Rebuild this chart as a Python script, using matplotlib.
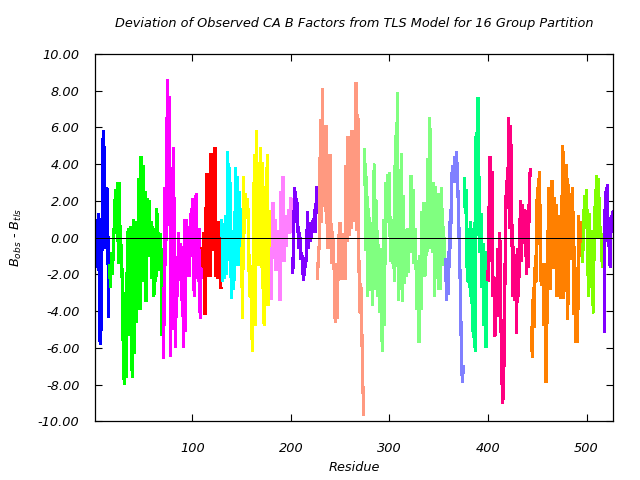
import numpy as np
import matplotlib
matplotlib.use("Agg")
import matplotlib.pyplot as plt

# deviation B_obs - B_tls per residue, one list per TLS group
blue = [-1.5, 0.2, -1.6, 0.7, 1.3, -5.5, -5.8, -2.9, 5.0, 5.8, 3.0, -0.6, 2.7, 2.6, -4.3]
green = [-1.5, -2.7, -0.8, -2.0, -0.3, 0.9, 2.6, 0.8, 3.0, -1.4, 3.0, -1.3, -0.4, -2.6,
         -6.3, -8.0, -3.0, -7.6, -1.0, 0.5, -5.3, 0.6, -1.7, -7.6, 1.0, -6.3, 0.9, -4.6,
         0.3, -2.1, 3.2, -3.9, 4.4, 0.9, 3.9, -2.4, 2.5, -3.5, 2.1, 0.5, 2.0, -1.0, 0.9,
         -2.2, 0.6, -3.2, -0.5, -2.4, 1.6, -1.8, 0.3, -1.6, 0.2, -5.3, -1.0]
magenta = [-6.5, 2.7, -1.5, 4.8, 8.6, 0.7, 7.7, -6.45, 3.0, -5.0, 4.9, -3.3, -6.0, -1.5,
           -3.2, 0.3, -1.7, -0.3, -3.4, -0.5, -6.0, 1.0, -5.1, 1.0, -2.1, -0.3, -2.1, 1.3,
           -1.0, 2.15, -1.0, -3.2, 1.5, 2.4, -0.6, -2.4, 0.5, -4.4, -1.4]
red = [-0.6, -1.6, 0.3, -4.2, 1.6, 3.5, -2.1, 2.2, -2.1, 4.6, -0.7, 4.2, -0.7, 4.9, -2.1,
       0.9, -2.2, 0.9, -2.1, -2.7]
cyan = [0.9, -2.4, 0.5, -2.2, 1.2, -2.0, 4.7, -0.5, 3.8, -1.4, -3.3, 0.4, -2.8, -0.5, 3.8,
        -1.5, 3.3, -1.5, 2.5, -0.5]
yellow = [-0.6, -4.4, 3.3, 0.2, 2.4, 1.2, 2.1, 0.8, -3.2, -1.5, -4.1, -6.2, -1.0, 4.5,
          -4.8, 5.8, 0.0, -1.5, 0.5, 4.9, -1.6, 4.1, -3.9, -4.8, 2.8, -3.7, 4.5, -3.7,
          1.5, -1.6]
pink = [-3.3, -0.5, 1.9, -0.3, 1.0, -1.8, -0.5, -1.7, 0.4, -3.4, 2.5, -0.8, 3.3, -1.3,
        0.5, -0.5, 1.2, 0.5, 1.5, 0.2, 2.2, 0.8]
purple = [-1.9, 0.9, 2.7, 0.8, 2.1, 0.8, -0.6, 0.3, -1.2, -0.8, -1.7, -2.35, -1.1, -1.6,
          -0.5, 1.4, -0.6, 0.8, -0.2, 0.3, 0.9, 0.3, 1.5, 0.3, 2.7]
salmon = [-2.2, -0.9, -0.3, 6.4, 0.8, 8.1, 1.7, 6.1, 1.4, 6.1, -0.6, 4.5, -0.6, 4.5, -1.4,
          0.3, -0.3, -1.9, -4.6, -1.4, -4.4, -1.6, 0.2, 0.8, -2.3, -0.6, -2.3, 0.2, -2.3,
          3.9, -0.2, 5.5, 0.1, 4.6, 0.5, 5.8, 2.5, 4.8, 0.9, 8.45, 0.4, 6.7, -1.1, -4.1,
          -2.5, -5.0, -7.9, -9.6]
lightgreen = [4.8, -0.7, 3.3, -3.2, 1.6, -1.0, -2.9, 0.8, -3.7, 3.3, 4.0, -2.8, 2.0, -3.2,
              -0.4, -4.1, -0.6, -4.8, -6.2, 1.0, -4.8, 3.0, 0.8, 3.45, 0.9, 3.55, -1.3, 0.6,
              -1.4, 1.0, -2.4, 5.55, -1.4, 7.9, -3.4, 3.4, -2.8, 4.6, -3.5, 2.3, -2.5, -1.0,
              -2.1, 0.5, -1.9, -0.5, 0.1, 3.4, -0.8, 2.6, -1.4, 0.5, -1.5, -3.9, -1.4, -5.7,
              -1.0, -3.9, 1.4, -1.7, 1.9, -2.1, 1.9, -1.0, 4.3, -0.6, 6.55, -0.6, 2.9, -0.8,
              3.0, -3.2, 2.8, -0.6, 2.4, -2.8, 2.4, -2.8, 2.7, -1.5, 0.6, -1.4]
slateblue = [-1.2, -3.4, -1.6, -3.1, 0.9, -0.6, 2.9, 3.9, 3.0, 4.4, 3.0, 4.7, 3.4, 1.7,
             -0.6, -2.8, -6.1, -7.9, -7.0]
springgreen = [3.2, 1.3, 2.6, -2.4, -0.4, -2.7, 0.9, -3.6, 0.3, -5.45, 0.8, -6.2, 5.7, 0.1,
               7.6, 2.3, -0.8, 1.3, -2.7, -0.3, -4.8, -1.0, -6.0, -0.8]
deeppink = [-2.3, 1.1, 4.4, -1.3, 3.6, -3.2, -2.1, -5.4, -3.2, -4.2, -0.6, -4.3, 0.3, -4.0,
            -7.4, -9.0, -7.7, -3.5, 1.7, 3.1, 1.6, 6.55, 0.5, 6.1, 2.3, -3.2, -0.5, -3.4,
            -0.9, -5.2, -0.6, -3.2, -0.6, 2.0, -1.3, 1.8, 0.0, -0.3, 1.5, -2.0, -0.2, -1.6,
            2.9, 3.7]
orange = [-4.9, -6.5, -2.7, -4.9, -1.0, -2.4, 2.7, -0.4, 3.6, 1.0, -2.6, -1.4, -2.6, -4.8,
          -1.4, -7.9, -3.9, 0.3, 2.7, -2.8, -0.5, 3.1, -1.7, 2.2, -1.7, 1.8, -3.2, -0.6,
          -2.3, 1.2, -3.3, 1.4, 5.0, -3.3, 3.7, -1.0, 4.0, -4.45, 2.9, -1.0, 1.5, -1.2, 2.7,
          -4.2, -0.5, -5.7, -3.6, -5.7, 1.2, -1.0, 0.9, -0.8]
chartreuse = [-1.3, 0.5, 2.3, 0.5, 2.6, -0.2, -3.2, 1.3, -2.7, 0.4, -2.7, -4.1, 1.7, 0.4,
              3.4, 0.0, 3.2, 1.4, 0.0, 0.2, -1.6, -0.3]
purple2 = [-5.1, 2.5, 1.0, 2.9, -0.5, 0.3, -1.6, 1.2, 0.3, 1.4]

groups = [blue, green, magenta, red, cyan, yellow, pink, purple, salmon,
          lightgreen, slateblue, springgreen, deeppink, orange, chartreuse, purple2]
colors = ["#0000ff", "#00ff00", "#ff00ff", "#ff0000", "#00ffff", "#ffff00",
          "#ff80ff", "#8000ff", "#ff9980", "#80ff80", "#8080ff", "#00ff80",
          "#ff0080", "#ff8000", "#80ff00", "#8000ff"]

first_residue = 1

fig = plt.figure(figsize=(6.4, 4.8), dpi=100)
ax = fig.add_axes([0.148, 0.122, 0.81, 0.766])

start = first_residue
for vals, col in zip(groups, colors):
    x = np.arange(start, start + len(vals))
    ax.plot(x, vals, color=col, lw=1.6, solid_joinstyle="miter", antialiased=False)
    start += len(vals)
last_residue = start - 1

ax.axhline(0, color="black", lw=0.72, zorder=5, antialiased=False)

ax.set_xlim(first_residue, last_residue)
ax.set_ylim(-10, 10)
ax.set_xticks([100, 200, 300, 400, 500])
ax.set_yticks(np.arange(-10, 10.1, 2))
ax.yaxis.set_major_formatter(matplotlib.ticker.FormatStrFormatter("%.2f"))
ax.tick_params(direction="in", length=5, width=0.8, top=True, right=True,
               labelsize=9.3)
ax.tick_params(axis="x", pad=15)
ax.tick_params(axis="y", pad=11)
for lab in ax.get_xticklabels() + ax.get_yticklabels():
    lab.set_style("italic")
for s in ax.spines.values():
    s.set_linewidth(0.9)

ax.set_title("Deviation of Observed CA B Factors from TLS Model for 16 Group Partition",
             fontsize=9.3, style="italic", pad=19)
ax.set_xlabel("Residue", fontsize=9.3, style="italic", labelpad=4)
ax.set_ylabel(r"$B_{obs}$ - $B_{tls}$", fontsize=9.3, labelpad=10)

fig.savefig("out.png", dpi=100)
